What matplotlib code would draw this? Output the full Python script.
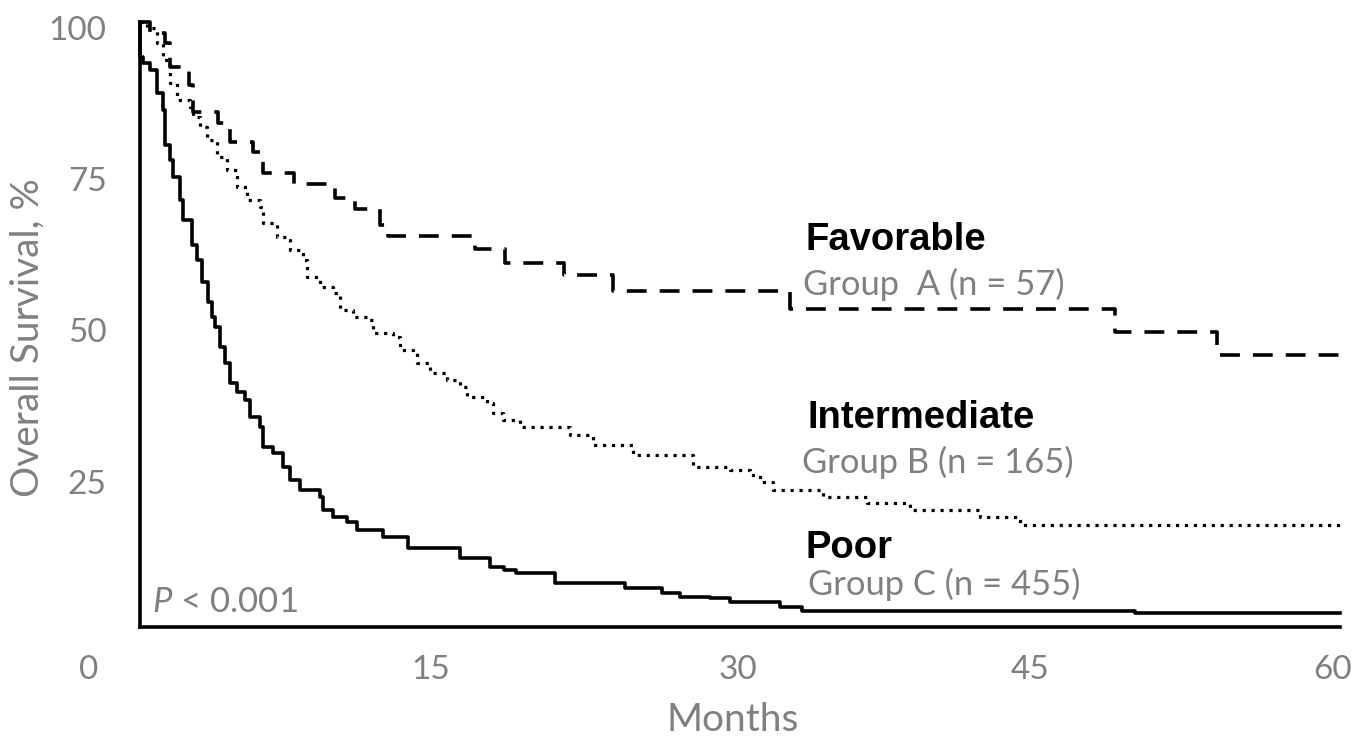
import matplotlib
matplotlib.use('Agg')
import matplotlib.pyplot as plt
import matplotlib.transforms as mtransforms

plt.rcParams['font.family'] = ['Lato', 'DejaVu Sans']
plt.rcParams['mathtext.fontset'] = 'custom'
plt.rcParams['mathtext.rm'] = 'Lato'
plt.rcParams['mathtext.it'] = 'Lato:italic'

# Kaplan-Meier step data (months, survival %)
fav_t = [0, 0.5, 1.25, 1.5, 2.45, 2.65, 3.9, 4.5, 5.65, 6.15, 7.7, 9.75, 10.75,
         12.0, 12.4, 16.75, 18.25, 21.2, 23.65, 32.5, 48.75, 53.85, 60]
fav_s = [100, 98.2, 96.5, 92.5, 89.6, 85.1, 83.3, 80.2, 78.5, 75.0, 73.3, 70.9, 69.1,
         66.4, 64.6, 62.5, 60.2, 58.2, 55.5, 52.6, 48.8, 45.0, 45.0]

int_t = [0, 0.35, 0.85, 1.15, 1.5, 1.85, 2.5, 2.65, 3.0, 3.35, 3.85, 4.35, 4.85,
         5.35, 6.0, 6.15, 6.85, 7.5, 8.15, 8.35, 9.0, 9.65, 10.0, 10.65, 11.35,
         11.65, 12.65, 13.0, 13.65, 13.85, 14.5, 15.35, 16.0, 16.35, 17.35, 17.65,
         18.15, 19.0, 21.5, 22.65, 24.65, 27.65, 29.5, 30.5, 31.0, 31.65, 34.15,
         36.35, 38.5, 42.0, 44.0, 60]
int_s = [100, 99.0, 96.5, 93.7, 89.9, 87.1, 86.0, 84.3, 82.6, 80.5, 77.7, 75.5, 72.7,
         70.6, 69.4, 66.8, 64.5, 62.3, 60.7, 57.9, 56.2, 55.2, 52.4, 51.2, 50.7,
         48.6, 47.9, 45.8, 45.3, 43.6, 42.0, 40.8, 39.7, 38.0, 37.0, 35.4,
         34.2, 33.1, 31.7, 30.1, 28.4, 26.4, 25.9, 25.1, 24.0, 22.6, 21.5,
         20.5, 19.3, 18.2, 16.9, 16.9]

poor_t = [0, 0.02, 0.15, 0.5, 0.85, 1.15, 1.25, 1.5, 1.65, 2.0, 2.15, 2.6, 2.85,
          3.1, 3.4, 3.6, 3.75, 4.0, 4.25, 4.5, 4.85, 5.25, 5.5, 6.0, 6.15, 6.65,
          7.15, 7.5, 8.0, 9.0, 9.15, 9.65, 10.35, 10.85, 12.15, 13.4, 16.0, 17.5,
          18.2, 18.8, 20.75, 24.25, 26.1, 27.0, 28.5, 29.5, 32.0, 33.1, 49.75, 60]
poor_s = [100, 94.2, 93.2, 92.0, 88.3, 85.5, 79.7, 77.2, 74.4, 70.6, 67.3, 63.1, 60.7,
          57.0, 53.7, 51.2, 49.6, 46.3, 43.6, 40.3, 38.8, 37.5, 34.7, 33.1, 29.8, 28.8,
          26.4, 24.3, 22.6, 21.5, 19.3, 18.2, 17.4, 16.0, 14.9, 13.1, 11.4, 9.9,
          9.4, 8.9, 7.3, 6.4, 5.6, 5.0, 4.8, 4.1, 3.3, 2.7, 2.3, 2.3]

x_ticks = [0, 15, 30, 45, 60]
y_ticks = [25, 50, 75, 100]

groups = ['Favorable', 'Intermediate', 'Poor']
group_labels = ['Group  A (n = 57)', 'Group B (n = 165)', 'Group C (n = 455)']

gray = '#808080'

fig = plt.figure(figsize=(13.69, 7.41), dpi=100)
ax = fig.add_axes([140 / 1369, (741 - 627) / 741, 1200 / 1369, 605 / 741])

ax.step(fav_t, fav_s, where='post', color='black', lw=2.6,
        linestyle=(0, (5.5, 3.6)), clip_on=False)
ax.step(int_t, int_s, where='post', color='black', lw=2.3,
        linestyle=(0, (1.0, 1.8)), clip_on=False)
ax.step(poor_t, poor_s, where='post', color='black', lw=2.6, clip_on=False)

ax.set_xlim(0, 60)
ax.set_ylim(0, 100)
for s in ['top', 'right']:
    ax.spines[s].set_visible(False)
for s in ['left', 'bottom']:
    ax.spines[s].set_linewidth(2.6)
    ax.spines[s].set_color('black')

ax.set_xticks(x_ticks)
ax.set_yticks(y_ticks + [0])
ax.set_yticklabels([str(v) for v in y_ticks] + [''])
ax.tick_params(length=0, labelsize=24, labelcolor=gray)
ax.tick_params(axis='x', pad=20)
ax.tick_params(axis='y', pad=24)

# small hand-placed offsets of the tick labels, as in the original
x_shift = [-51, -9, -2, -10, -7]
for lab, dx in zip(ax.get_xticklabels(), x_shift):
    lab.set_transform(lab.get_transform() +
                      mtransforms.ScaledTranslation(dx / 100, 0, fig.dpi_scale_trans))
for lab in ax.get_yticklabels():
    lab.set_transform(lab.get_transform() +
                      mtransforms.ScaledTranslation(0, -6 / 100, fig.dpi_scale_trans))

fig.text(733 / 1369, 1 - 720 / 741, 'Months', ha='center', va='center',
         fontsize=28, color=gray)
fig.text(28 / 1369, 1 - 338 / 741, 'Overall Survival, %', ha='center', va='center',
         rotation=90, fontsize=28, color=gray)

# group annotations
bold_pos = [(33.3, 62.3), (33.35, 32.9), (33.3, 11.4)]
label_pos = [(33.15, 54.9), (33.1, 25.5), (33.4, 5.3)]
for name, (bx, by) in zip(groups, bold_pos):
    ax.text(bx, by, name, fontsize=27.5, fontweight='bold', color='black',
            family='Liberation Sans', va='baseline', ha='left')
for lab, (lx, ly) in zip(group_labels, label_pos):
    ax.text(lx, ly, lab, fontsize=24.8, color=gray, va='baseline', ha='left')

ax.text(0.6, 2.5, r'$P$ < 0.001', fontsize=25, color=gray, va='baseline', ha='left')

fig.savefig('out.png', dpi=100)
